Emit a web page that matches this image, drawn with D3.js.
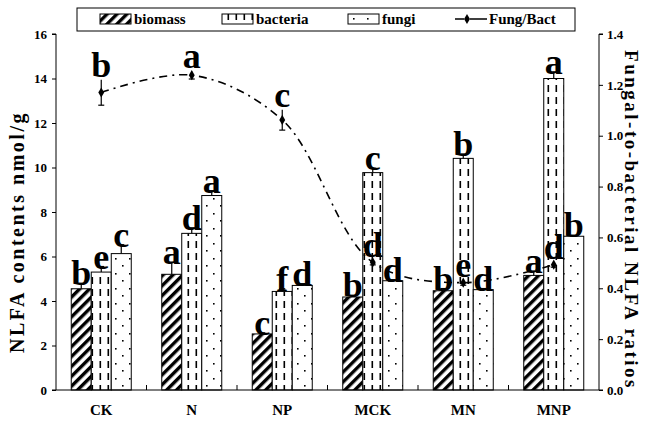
<!DOCTYPE html>
<html>
<head>
<meta charset="utf-8">
<script src="https://cdn.jsdelivr.net/npm/d3@7"></script>
<style>
  body { margin: 0; background: #fff; }
</style>
</head>
<body>
<svg id="body" width="647" height="421"></svg>
<script>
// data
let categories = ["CK", "N", "NP", "MCK", "MN", "MNP"];
let biomass = [4.55, 5.2, 2.52, 4.18, 4.46, 5.15];
let bacteria = [5.3, 7.04, 4.43, 9.77, 10.41, 14.0];
let fungi = [6.13, 8.74, 4.7, 4.91, 4.51, 6.91];
let biomassErr = [0.25, 0.55, 0.05, 0.08, 0.1, 0.2];
let bacteriaErr = [0.25, 0.25, 0.12, 0.2, 0.2, 0.3];
let fungiErr = [0.4, 0.22, 0.08, 0.05, 0.05, 0.05];
let ratio = [1.17, 1.238, 1.062, 0.502, 0.422, 0.493];
let ratioErr = [0.05, 0.015, 0.04, 0.01, 0.01, 0.01];
let biomassLetters = ["b", "a", "c", "b", "b", "a"];
let bacteriaLetters = ["e", "d", "f", "c", "b", "a"];
let fungiLetters = ["c", "a", "d", "d", "d", "b"];
let ratioLetters = ["b", "a", "c", "d", "e", "d"];
let leftTicks = [0, 2, 4, 6, 8, 10, 12, 14, 16];
let rightTicks = [0, 0.2, 0.4, 0.6, 0.8, 1.0, 1.2, 1.4];
let seriesNames = ["biomass", "bacteria", "fungi", "Fung/Bact"];

let serif = "'Liberation Serif', 'Times New Roman', 'DejaVu Serif', serif";

let svg = d3.select("#body");

let x0 = 56, x1 = 599, yTop = 34, yBottom = 390;

let groupScale = d3.scaleBand()
    .domain(categories)
    .range([x0, x1])
    .paddingInner(0.337)
    .paddingOuter(0.1685);

let subScale = d3.scaleBand()
    .domain([0, 1, 2])
    .range([0, groupScale.bandwidth()]);

let nlfaScale = d3.scaleLinear().domain([0, 16]).range([yBottom, yTop]);
let ratioScale = d3.scaleLinear().domain([0, 1.4]).range([yBottom, yTop]);

// fill patterns
let defs = svg.append("defs");

let hatch = defs.append("pattern")
    .attr("id", "hatch")
    .attr("patternUnits", "userSpaceOnUse")
    .attr("width", 7).attr("height", 7)
    .attr("patternTransform", "rotate(45)");
hatch.append("rect").attr("width", 7).attr("height", 7).attr("fill", "#fff");
hatch.append("rect").attr("x", 0).attr("width", 3.4).attr("height", 7).attr("fill", "#000");

let dashes = defs.append("pattern")
    .attr("id", "dashes")
    .attr("patternUnits", "userSpaceOnUse")
    .attr("width", 8).attr("height", 12);
dashes.append("rect").attr("width", 8).attr("height", 12).attr("fill", "#fff");
dashes.append("rect").attr("x", 3.5).attr("y", 1).attr("width", 1.6).attr("height", 7).attr("fill", "#000");

let dots = defs.append("pattern")
    .attr("id", "dots")
    .attr("patternUnits", "userSpaceOnUse")
    .attr("width", 14).attr("height", 15);
dots.append("rect").attr("width", 14).attr("height", 15).attr("fill", "#fff");
dots.append("rect").attr("x", 3).attr("y", 3).attr("width", 1.6).attr("height", 1.6).attr("fill", "#000");
dots.append("rect").attr("x", 10).attr("y", 10).attr("width", 1.6).attr("height", 1.6).attr("fill", "#000");

let fills = ["url(#hatch)", "url(#dashes)", "url(#dots)"];
let barSeries = [
    { values: biomass, errs: biomassErr, letters: biomassLetters },
    { values: bacteria, errs: bacteriaErr, letters: bacteriaLetters },
    { values: fungi, errs: fungiErr, letters: fungiLetters }
];

let bars = [];
barSeries.forEach((s, si) => {
    categories.forEach((c, ci) => {
        bars.push({ cat: c, si: si, v: s.values[ci], e: s.errs[ci], letter: s.letters[ci] });
    });
});

let barX = d => groupScale(d.cat) + subScale(d.si);

svg.append("g")
    .selectAll("rect")
    .data(bars)
    .enter()
    .append("rect")
    .attr("x", d => barX(d))
    .attr("y", d => nlfaScale(d.v))
    .attr("width", subScale.bandwidth())
    .attr("height", d => nlfaScale(0) - nlfaScale(d.v))
    .attr("fill", d => fills[d.si])
    .attr("stroke", "#000")
    .attr("stroke-width", 1);

// error bars (upper half)
let errG = svg.append("g").attr("stroke", "#000").attr("stroke-width", 1.2);
errG.selectAll("line.v")
    .data(bars)
    .enter()
    .append("line")
    .attr("x1", d => barX(d) + subScale.bandwidth() / 2)
    .attr("x2", d => barX(d) + subScale.bandwidth() / 2)
    .attr("y1", d => nlfaScale(d.v))
    .attr("y2", d => nlfaScale(d.v + d.e));
errG.selectAll("line.cap")
    .data(bars)
    .enter()
    .append("line")
    .attr("x1", d => barX(d) + subScale.bandwidth() / 2 - 3)
    .attr("x2", d => barX(d) + subScale.bandwidth() / 2 + 3)
    .attr("y1", d => nlfaScale(d.v + d.e))
    .attr("y2", d => nlfaScale(d.v + d.e));

// axes
let leftAxis = d3.axisLeft(nlfaScale)
    .tickValues(leftTicks)
    .tickSize(4)
    .tickFormat(d3.format("d"));
let rightAxis = d3.axisRight(ratioScale)
    .tickValues(rightTicks)
    .tickSize(4)
    .tickFormat(d3.format(".1f"));

let gl = svg.append("g")
    .attr("transform", `translate(${x0},0)`)
    .call(leftAxis);
let gr = svg.append("g")
    .attr("transform", `translate(${x1},0)`)
    .call(rightAxis);

[gl, gr].forEach(g => {
    g.attr("font-family", serif).attr("font-weight", "bold").attr("font-size", 13);
    g.select(".domain").attr("d", g === gl
        ? `M-4,${yTop}H0V${yBottom}H-4`
        : `M4,${yTop}H0V${yBottom}H4`);
    g.selectAll("text").attr("fill", "#000");
    g.selectAll("line").attr("stroke", "#000");
    g.selectAll("path").attr("stroke", "#000");
});
gl.selectAll(".tick text").attr("x", -9);
gr.selectAll(".tick text").attr("x", 8);

// bottom axis line with ticks between groups
svg.append("line")
    .attr("x1", x0).attr("x2", x1)
    .attr("y1", yBottom).attr("y2", yBottom)
    .attr("stroke", "#000");

svg.append("g")
    .selectAll("line")
    .data(categories.slice(1))
    .enter()
    .append("line")
    .attr("x1", d => groupScale(d) - groupScale.step() * groupScale.paddingInner() / 2)
    .attr("x2", d => groupScale(d) - groupScale.step() * groupScale.paddingInner() / 2)
    .attr("y1", yBottom)
    .attr("y2", yBottom - 5)
    .attr("stroke", "#000");

let textG = svg.append("g")
    .attr("font-family", serif)
    .attr("font-weight", "bold");

textG.append("g")
    .selectAll("text")
    .data(categories)
    .enter()
    .append("text")
    .attr("x", d => groupScale(d) + groupScale.bandwidth() / 2)
    .attr("y", 415)
    .attr("text-anchor", "middle")
    .attr("font-size", 15)
    .text(d => d);

// ratio line
let ratioData = categories.map((c, i) => ({ cat: c, v: ratio[i], e: ratioErr[i], letter: ratioLetters[i] }));
let cx = d => groupScale(d.cat) + groupScale.bandwidth() / 2;

let line = d3.line()
    .x(d => cx(d))
    .y(d => ratioScale(d.v))
    .curve(d3.curveCatmullRom.alpha(0.5));

svg.append("path")
    .datum(ratioData)
    .attr("d", line)
    .attr("fill", "none")
    .attr("stroke", "#000")
    .attr("stroke-width", 1.6)
    .attr("stroke-dasharray", "8,5,2,5");

let rErr = svg.append("g").attr("stroke", "#000").attr("stroke-width", 1.2);
rErr.selectAll("line.v")
    .data(ratioData)
    .enter()
    .append("line")
    .attr("x1", d => cx(d)).attr("x2", d => cx(d))
    .attr("y1", d => ratioScale(d.v - d.e))
    .attr("y2", d => ratioScale(d.v + d.e));
rErr.selectAll("line.cap")
    .data(ratioData)
    .enter()
    .append("line")
    .attr("x1", d => cx(d) - 3).attr("x2", d => cx(d) + 3)
    .attr("y1", d => ratioScale(d.v - d.e))
    .attr("y2", d => ratioScale(d.v - d.e));

let diamond = d3.symbol().type(d3.symbolDiamond).size(30);
svg.append("g")
    .selectAll("path")
    .data(ratioData)
    .enter()
    .append("path")
    .attr("d", diamond)
    .attr("transform", d => `translate(${cx(d)},${ratioScale(d.v)})`)
    .attr("fill", "#000");

// significance letters
let letterG = svg.append("g")
    .attr("font-family", serif)
    .attr("font-weight", "bold")
    .attr("font-size", 36);

letterG.append("g")
    .selectAll("text")
    .data(bars)
    .enter()
    .append("text")
    .attr("x", d => barX(d) + subScale.bandwidth() / 2)
    .attr("y", d => nlfaScale(d.v + d.e) + 2)
    .attr("text-anchor", "middle")
    .text(d => d.letter);

letterG.append("g")
    .selectAll("text")
    .data(ratioData)
    .enter()
    .append("text")
    .attr("x", d => cx(d))
    .attr("y", d => ratioScale(d.v + d.e) - 3)
    .attr("text-anchor", "middle")
    .text(d => d.letter);

// axis titles
textG.append("text")
    .attr("transform", "translate(24,232) rotate(-90)")
    .attr("text-anchor", "middle")
    .attr("font-size", 20)
    .attr("letter-spacing", 2.5)
    .text("NLFA contents nmol/g");

textG.append("text")
    .attr("transform", "translate(625,220) rotate(90)")
    .attr("text-anchor", "middle")
    .attr("font-size", 19)
    .attr("letter-spacing", 2.5)
    .text("Fungal-to-bacterial NLFA  ratios");

// legend
let legend = svg.append("g");
legend.append("rect")
    .attr("x", 77).attr("y", 8)
    .attr("width", 498).attr("height", 23)
    .attr("fill", "#fff")
    .attr("stroke", "#000");

let legendX = [100, 222, 348, 455];
seriesNames.forEach((name, i) => {
    let lx = legendX[i];
    if (i < 3) {
        legend.append("rect")
            .attr("x", lx).attr("y", 14)
            .attr("width", 31).attr("height", 10)
            .attr("fill", fills[i])
            .attr("stroke", "#000");
    } else {
        legend.append("line")
            .attr("x1", lx).attr("x2", lx + 32)
            .attr("y1", 19).attr("y2", 19)
            .attr("stroke", "#000")
            .attr("stroke-width", 1.6)
            .attr("stroke-dasharray", "9,6,8,0");
        legend.append("path")
            .attr("d", diamond)
            .attr("transform", `translate(${lx + 12},19)`)
            .attr("fill", "#000");
    }
    legend.append("text")
        .attr("x", lx + 34)
        .attr("y", 24)
        .attr("font-family", serif)
        .attr("font-weight", "bold")
        .attr("font-size", 15)
        .text(name);
});
</script>
</body>
</html>
